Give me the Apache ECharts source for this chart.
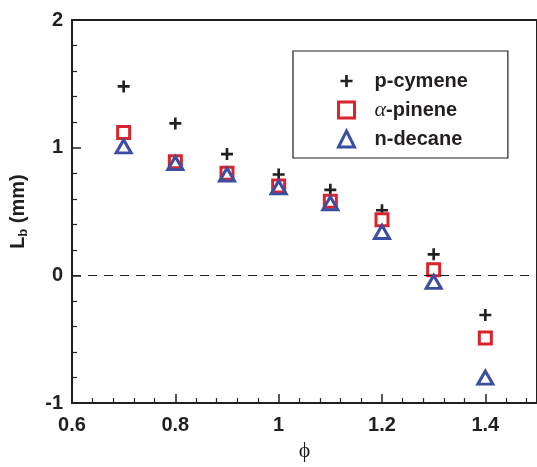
<!DOCTYPE html>
<html>
<head>
<meta charset="utf-8">
<script src="https://cdn.jsdelivr.net/npm/echarts@6/dist/echarts.min.js"></script>
<style>
  html, body { margin: 0; padding: 0; background: #fff; }
  #chart { width: 537px; height: 467px; }
</style>
</head>
<body>
<div id="chart"></div>
<script>
// Equivalence ratio values (x) and lift-off length L_b in mm for each fuel
const phi = [0.7, 0.8, 0.9, 1.0, 1.1, 1.2, 1.3, 1.4];
const pCymene = [1.48, 1.19, 0.95, 0.79, 0.67, 0.51, 0.165, -0.31];
const alphaPinene = [1.12, 0.89, 0.80, 0.70, 0.58, 0.435, 0.045, -0.49];
const nDecane = [1.01, 0.88, 0.79, 0.69, 0.565, 0.34, -0.05, -0.80];

const seriesNames = ['p-cymene', 'α-pinene', 'n-decane'];

const ink = '#231f20';
const red = '#d9232d';
const blue = '#3b4ea2';
const sansBold = { fontFamily: 'Liberation Sans, Arial, sans-serif', fontWeight: 'bold' };

// filled "+" marker; the legend variant carries extra empty margin so it draws smaller in its icon box
const plusPath = 'path://M3.9,0H6.1V3.9H10V6.1H6.1V10H3.9V6.1H0V3.9H3.9Z';
const plusLegendPath = 'path://M-1.6,-1.6M11.6,11.6M3.9,0H6.1V3.9H10V6.1H6.1V10H3.9V6.1H0V3.9H3.9Z';

function pairs(ys) {
  return phi.map((x, i) => [x, ys[i]]);
}

const chart = echarts.init(document.getElementById('chart'), null, { renderer: 'canvas' });

chart.setOption({
  animation: false,
  backgroundColor: '#ffffff',
  grid: {
    left: 70, top: 20, bottom: 61, right: -6,
    show: true, borderColor: ink, borderWidth: 2, backgroundColor: 'transparent'
  },
  xAxis: {
    type: 'value',
    min: 0.6, max: 1.5, interval: 0.2,
    name: 'ϕ',
    nameLocation: 'middle',
    nameGap: 22,
    nameTextStyle: { fontFamily: 'Liberation Serif, DejaVu Serif, serif', fontSize: 22, color: ink, verticalAlign: 'top' },
    axisLine: { show: true, onZero: false, lineStyle: { color: ink, width: 2 } },
    axisTick: { show: true, inside: true, length: 9, lineStyle: { color: ink, width: 1.5 } },
    minorTick: { show: true, splitNumber: 5, length: 5, lineStyle: { color: ink, width: 1.2 } },
    splitLine: { show: false },
    minorSplitLine: { show: false },
    axisLabel: Object.assign({ fontSize: 20, color: ink, margin: 12, showMaxLabel: false }, sansBold)
  },
  yAxis: {
    type: 'value',
    min: -1, max: 2, interval: 1,
    name: '{t|L}{s|b}{t| (mm)}',
    nameLocation: 'middle',
    nameGap: 42,
    nameRotate: 90,
    nameTextStyle: {
      color: ink,
      rich: {
        t: Object.assign({ fontSize: 20, lineHeight: 24, color: ink }, sansBold),
        s: Object.assign({ fontSize: 13, lineHeight: 13, verticalAlign: 'bottom', color: ink }, sansBold)
      }
    },
    axisLine: { show: true, onZero: false, lineStyle: { color: ink, width: 2 } },
    axisTick: { show: true, inside: true, length: 9, lineStyle: { color: ink, width: 1.5 } },
    minorTick: { show: true, splitNumber: 5, length: 5, lineStyle: { color: ink, width: 1.2 } },
    splitLine: { show: false },
    minorSplitLine: { show: false },
    axisLabel: Object.assign({ fontSize: 20, color: ink, margin: 9 }, sansBold)
  },
  legend: {
    orient: 'vertical',
    left: 293, top: 51,
    padding: [20, 40, 9, 44],
    itemWidth: 16, itemHeight: 16,
    itemGap: 8,
    borderColor: ink, borderWidth: 1.2,
    backgroundColor: '#fff',
    data: [
      { name: seriesNames[0], icon: plusLegendPath, itemStyle: { borderWidth: 0 } },
      { name: seriesNames[1], itemStyle: { borderWidth: 3, borderColor: red } },
      { name: seriesNames[2], itemStyle: { borderWidth: 3, borderColor: blue } }
    ],
    formatter: function (name) {
      if (name === seriesNames[1]) return '{g|α}{t|-pinene}';
      return '{t|' + name + '}';
    },
    textStyle: Object.assign({
      fontSize: 20, color: ink,
      rich: {
        t: Object.assign({ fontSize: 20, color: ink }, sansBold),
        g: { fontFamily: 'Liberation Serif, DejaVu Serif, serif', fontStyle: 'italic', fontWeight: 'normal', fontSize: 22, color: ink }
      },
      padding: [0, 0, 0, 15]
    }, sansBold)
  },
  series: [
    {
      name: seriesNames[0],
      type: 'scatter',
      data: pairs(pCymene),
      symbol: plusPath,
      symbolSize: 12,
      symbolKeepAspect: true,
      itemStyle: { color: ink, opacity: 1 },
      markLine: {
        silent: true,
        symbol: ['none', 'none'],
        label: { show: false },
        lineStyle: { color: ink, type: [9, 7], width: 1.2 },
        data: [{ yAxis: 0 }]
      },
      z: 3
    },
    {
      name: seriesNames[1],
      type: 'scatter',
      data: pairs(alphaPinene),
      symbol: 'rect',
      symbolSize: 12,
      symbolKeepAspect: true,
      itemStyle: { color: '#fff', borderColor: red, borderWidth: 3, opacity: 1 },
      z: 4
    },
    {
      name: seriesNames[2],
      type: 'scatter',
      data: pairs(nDecane),
      symbol: 'triangle',
      symbolSize: [15, 13],
      symbolKeepAspect: true,
      itemStyle: { color: 'rgba(255,255,255,0)', borderColor: blue, borderWidth: 3, opacity: 1 },
      z: 5
    }
  ]
});
</script>
</body>
</html>
